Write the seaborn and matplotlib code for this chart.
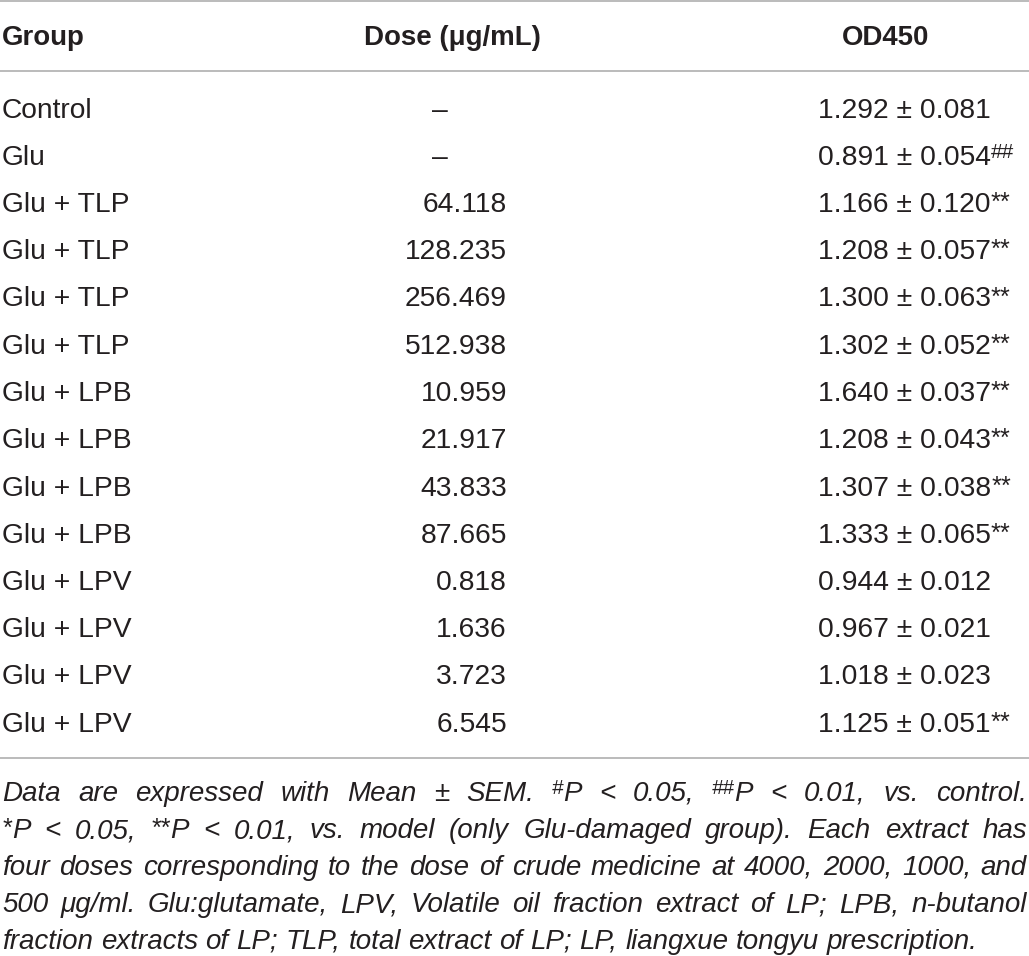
import numpy as np
import pandas as pd
import seaborn as sns
import matplotlib.pyplot as plt

# table content
groups = ["Control", "Glu",
          "Glu + TLP", "Glu + TLP", "Glu + TLP", "Glu + TLP",
          "Glu + LPB", "Glu + LPB", "Glu + LPB", "Glu + LPB",
          "Glu + LPV", "Glu + LPV", "Glu + LPV", "Glu + LPV"]
doses = ["–", "–", "64.118", "128.235", "256.469", "512.938",
         "10.959", "21.917", "43.833", "87.665",
         "0.818", "1.636", "3.723", "6.545"]
od_mean = [1.292, 0.891, 1.166, 1.208, 1.300, 1.302,
           1.640, 1.208, 1.307, 1.333, 0.944, 0.967, 1.018, 1.125]
od_sem = [0.081, 0.054, 0.120, 0.057, 0.063, 0.052,
          0.037, 0.043, 0.038, 0.065, 0.012, 0.021, 0.023, 0.051]
od_mark = ["", "##", "**", "**", "**", "**",
           "**", "**", "**", "**", "", "", "", "**"]
headers = ["Group", "Dose (μg/mL)", "OD450"]

notes = [
    "Data are expressed with Mean ± SEM. #P < 0.05, ##P < 0.01, vs. control.",
    "*P < 0.05, **P < 0.01, vs. model (only Glu-damaged group). Each extract has",
    "four doses corresponding to the dose of crude medicine at 4000, 2000, 1000, and",
    "500 μg/ml. Glu:glutamate, LPV, Volatile oil fraction extract of LP; LPB, n-butanol",
    "fraction extracts of LP; TLP, total extract of LP; LP, liangxue tongyu prescription.",
]

df = pd.DataFrame({"group": groups, "dose": doses, "mean": od_mean,
                   "sem": od_sem, "mark": od_mark})

sns.set_theme(style="white")
plt.rcParams["font.family"] = ["Liberation Sans", "DejaVu Sans"]

W, H = 1029, 956
fig = plt.figure(figsize=(W / 100, H / 100), dpi=100)
ax = fig.add_axes([0, 0, 1, 1])
ax.set_xlim(0, W)
ax.set_ylim(H, 0)
ax.axis("off")
renderer = fig.canvas.get_renderer()

INK = "#231f20"
RULE = "#b5b5b5"
BODY = 20.3
NOTE = 20.0
# superscript mark: (size factor, raise in em)
SUP = {"#": (0.74, 0.24), "*": (0.9, 0.07)}


def split_sup(word):
    lead = len(word) - len(word.lstrip("#*"))
    tail = len(word) - len(word.rstrip("#*"))
    runs = []
    if lead:
        runs.append((word[:lead], True))
    core = word[lead:len(word) - tail] if tail else word[lead:]
    if core:
        runs.append((core, False))
    if tail and len(word) > lead:
        runs.append((word[len(word) - tail:], True))
    return runs


def put(x, y, word, size, ha="left", draw=True, **kw):
    """draw a word with optional superscript marks, return its width"""
    em = size * 100 / 72
    arts = []
    for txt, sup in split_sup(word):
        f, r = SUP[txt[0]] if sup else (1.0, 0.0)
        t = ax.text(0, y - r * em, txt, fontsize=size * f,
                    va="baseline", ha="left", color=INK, **kw)
        arts.append(t)
    widths = [a.get_window_extent(renderer).width for a in arts]
    total = sum(widths)
    x0 = {"left": x, "right": x - total, "center": x - total / 2}[ha]
    for a, w in zip(arts, widths):
        a.set_x(x0)
        x0 += w
        if not draw:
            a.remove()
    return total


# rules
for yr in [1, 71, 758]:
    ax.axhline(yr, color=RULE, lw=1.3)

# header
hy = 45
put(2, hy, headers[0], BODY * 0.98, weight="bold")
put(452, hy, headers[1], BODY * 0.98, ha="center", weight="bold")
put(886, hy, headers[2], BODY * 0.98, ha="center", weight="bold")

# body rows
y0, step = 117.5, 47.25
for i, row in df.iterrows():
    y = y0 + i * step
    put(2, y, row["group"], BODY)
    if row["dose"] == "–":
        put(440, y, row["dose"], BODY, ha="center")
    else:
        put(507, y, row["dose"], BODY, ha="right")
    put(818, y, f"{row['mean']:.3f} ± {row['sem']:.3f}{row['mark']}", BODY)

# footnote, justified
left, right = 2, 1027
ny0, nstep = 801, 37
for k, line in enumerate(notes):
    y = ny0 + k * nstep
    words = line.split(" ")
    probe = [put(0, y, w, NOTE, draw=False, style="italic") for w in words]
    if k < len(notes) - 1:
        gap = (right - left - sum(probe)) / (len(words) - 1)
    else:
        gap = 0.278 * NOTE * 100 / 72
    x = left
    for w, pw in zip(words, probe):
        put(x, y, w, NOTE, style="italic")
        x += pw + gap

fig.savefig("out.png", dpi=100)
